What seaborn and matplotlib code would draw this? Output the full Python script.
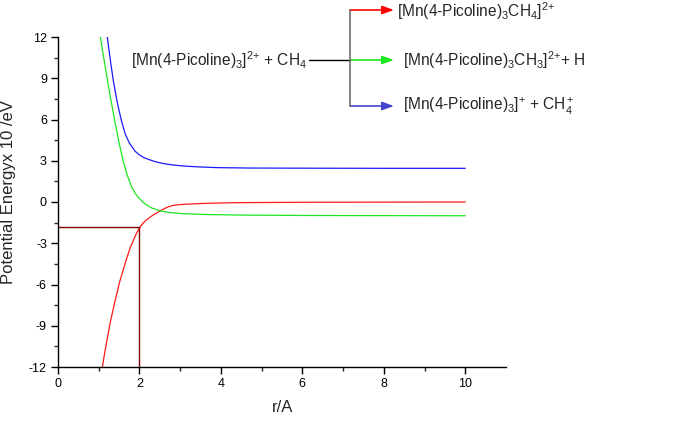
import numpy as np
import pandas as pd
import matplotlib
matplotlib.use("Agg")
import matplotlib.pyplot as plt
import seaborn as sns

# ---- data ----
r_red = [1.09, 1.15, 1.2, 1.28, 1.4, 1.52, 1.65, 1.77, 1.9, 2.0, 2.1, 2.2, 2.3, 2.42, 2.5,
         2.6, 2.7, 2.8, 2.9, 3.07, 3.3, 3.6, 4.3, 6.0, 8.0, 10.0]
e_red = [-12.0, -10.9, -10.1, -8.8, -7.2, -5.75, -4.45, -3.35, -2.45, -1.87, -1.5, -1.24,
         -1.02, -0.8, -0.66, -0.5, -0.36, -0.27, -0.22, -0.17, -0.14, -0.1, -0.05, -0.02,
         -0.01, 0.0]

r_green = [1.04, 1.1, 1.2, 1.3, 1.4, 1.5, 1.6, 1.7, 1.8, 1.9, 2.0, 2.1, 2.2, 2.3, 2.42, 2.5,
           2.65, 2.83, 3.07, 3.4, 3.65, 4.47, 6.0, 8.0, 10.0]
e_green = [12.0, 10.9, 9.1, 7.4, 5.8, 4.3, 3.0, 1.95, 1.15, 0.6, 0.25, -0.05, -0.27, -0.43,
           -0.56, -0.64, -0.72, -0.79, -0.85, -0.89, -0.91, -0.95, -0.98, -0.99, -1.0]

r_blue = [1.21, 1.25, 1.3, 1.36, 1.42, 1.48, 1.55, 1.65, 1.75, 1.89, 2.0, 2.1, 2.22, 2.4, 2.6,
          2.8, 3.07, 3.4, 3.9, 4.7, 6.0, 8.0, 10.0]
e_blue = [12.0, 11.1, 10.0, 8.8, 7.8, 6.9, 6.0, 4.95, 4.3, 3.7, 3.42, 3.24, 3.1, 2.92, 2.79,
          2.7, 2.62, 2.56, 2.5, 2.47, 2.46, 2.45, 2.45]

marker_r = 2.0
marker_e = -1.85

x_ticks = [0, 2, 4, 6, 8, 10]
y_ticks = [-12, -9, -6, -3, 0, 3, 6, 9, 12]

label_reactant = r"[Mn(4-Picoline)$_3$]$^{2{+}}$ + CH$_4$"
label_p1 = r"[Mn(4-Picoline)$_3$CH$_4$]$^{2{+}}$"
label_p2 = r"[Mn(4-Picoline)$_3$CH$_3$]$^{2{+}}$+ H"
label_p3 = r"[Mn(4-Picoline)$_3$]$^{{+}}$ + CH$_4^{\,{+}}$"
xlabel = "r/A"
ylabel = "Potential Energyx 10 /eV"

# ---- style ----
sns.set_style("ticks")
plt.rcParams["font.family"] = ["Liberation Sans", "DejaVu Sans"]
plt.rcParams["mathtext.fontset"] = "custom"
plt.rcParams["mathtext.rm"] = "Liberation Sans"
plt.rcParams["mathtext.it"] = "Liberation Sans:italic"
plt.rcParams["mathtext.bf"] = "Liberation Sans:bold"
plt.rcParams["axes.unicode_minus"] = False

W, H = 686, 426
fig = plt.figure(figsize=(W / 100, H / 100), dpi=100)

def fx(px):
    return px / W

def fy(py):
    return 1 - py / H

ax = fig.add_axes([fx(58), fy(367), fx(506) - fx(58), fy(37) - fy(367)])

df = pd.concat([
    pd.DataFrame({"r": r_red, "E": e_red, "s": "red"}),
    pd.DataFrame({"r": r_green, "E": e_green, "s": "green"}),
    pd.DataFrame({"r": r_blue, "E": e_blue, "s": "blue"}),
], ignore_index=True)
palette = {"red": "#ff1a1a", "green": "#1ee61e", "blue": "#1a1aff"}
sns.lineplot(data=df, x="r", y="E", hue="s", palette=palette, sort=False,
             estimator=None, linewidth=0.9, legend=False, ax=ax)

ax.plot([0, marker_r], [marker_e, marker_e], color="#800000", lw=1.0)
ax.plot([marker_r, marker_r], [-12, marker_e], color="#800000", lw=1.0)

ax.set_xlim(0, 11)
ax.set_ylim(-12, 12)
ax.set_xticks(x_ticks)
ax.set_yticks(y_ticks)
ax.set_xticks(np.arange(1, 11, 2), minor=True)
ax.set_yticks(np.arange(-10.5, 12, 3), minor=True)
ax.tick_params(which="major", direction="out", length=5, width=1, labelsize=9,
               colors="black", pad=3)
ax.tick_params(which="minor", direction="out", length=3, width=1)
for s in ["top", "right"]:
    ax.spines[s].set_visible(False)
for s in ["left", "bottom"]:
    ax.spines[s].set_color("black")
    ax.spines[s].set_linewidth(1.0)
ax.set_xlabel("")
ax.set_ylabel("")

fig.text(fx(283), fy(408), xlabel, ha="center", va="center", fontsize=12)
fig.text(fx(16), fy(192), ylabel, ha="right", va="center", rotation=90, fontsize=12)

# ---- reaction scheme ----
fs = 11.2
fig.text(fx(131), fy(60), label_reactant, ha="left", va="center", fontsize=fs)
fig.text(fx(397), fy(11), label_p1, ha="left", va="center", fontsize=fs)
fig.text(fx(403), fy(60), label_p2, ha="left", va="center", fontsize=fs)
fig.text(fx(403), fy(106), label_p3, ha="left", va="center", fontsize=fs)

fig.add_artist(plt.Line2D([fx(309), fx(350)], [fy(60), fy(60)], color="black", lw=1.0))
fig.add_artist(plt.Line2D([fx(350), fx(350)], [fy(10), fy(106)], color="#707070", lw=1.2))
for yy, col in [(10, "#ff0000"), (60, "#1ee61e"), (106, "#4444cc")]:
    ax.annotate("", xy=(fx(394), fy(yy)), xytext=(fx(350), fy(yy)),
                xycoords="figure fraction", textcoords="figure fraction",
                arrowprops=dict(arrowstyle="-|>,head_length=0.7,head_width=0.25",
                                color=col, lw=1.2, mutation_scale=10,
                                shrinkA=0, shrinkB=0))

fig.savefig("out.png", dpi=100)
